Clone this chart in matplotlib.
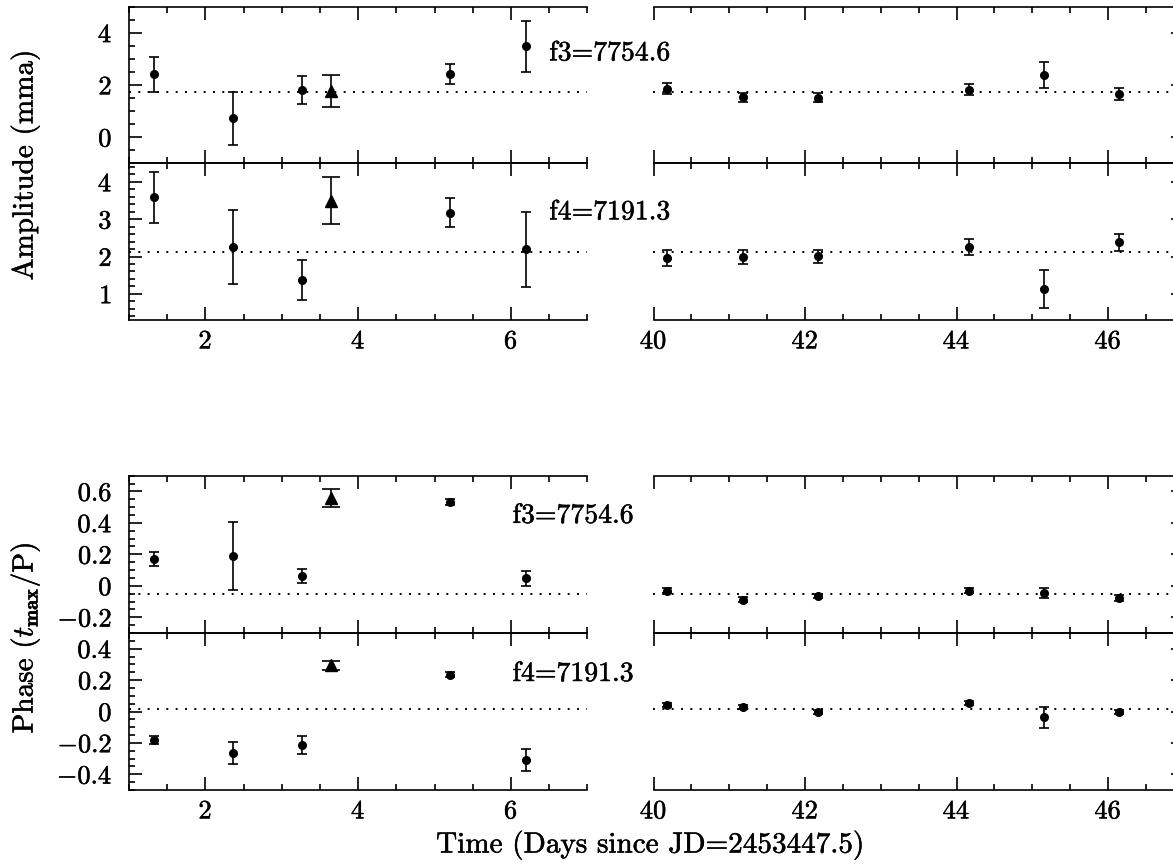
import matplotlib
matplotlib.use("Agg")
import matplotlib.pyplot as plt
import matplotlib.patheffects as pe
from matplotlib.ticker import MultipleLocator, FuncFormatter

plt.rcParams['font.family'] = 'cmr10'
plt.rcParams['mathtext.fontset'] = 'cm'
plt.rcParams['axes.unicode_minus'] = False
plt.rcParams['axes.formatter.use_mathtext'] = True

# observation times (days since JD=2453447.5)
t_obs = [1.33, 2.36, 3.27, 5.20, 6.20, 40.18, 41.18, 42.17, 44.16, 45.16, 46.14]
t_tri = [3.65]

amp_f3 = [2.41, 0.72, 1.82, 2.41, 3.48, 1.86, 1.53, 1.52, 1.82, 2.38, 1.64]
amp_f3_err = [0.68, 1.00, 0.53, 0.39, 0.98, 0.22, 0.18, 0.18, 0.22, 0.50, 0.23]
amp_f3_tri = [1.76]
amp_f3_tri_err = [0.62]

amp_f4 = [3.59, 2.26, 1.38, 3.18, 2.19, 1.96, 1.99, 2.01, 2.26, 1.13, 2.38]
amp_f4_err = [0.68, 1.00, 0.54, 0.40, 1.00, 0.22, 0.18, 0.17, 0.22, 0.50, 0.22]
amp_f4_tri = [3.50]
amp_f4_tri_err = [0.63]

phase_f3 = [0.17, 0.19, 0.063, 0.532, 0.048, -0.032, -0.088, -0.064, -0.032, -0.045, -0.077]
phase_f3_err = [0.045, 0.215, 0.045, 0.02, 0.048, 0.015, 0.015, 0.015, 0.015, 0.03, 0.02]
phase_f3_tri = [0.56]
phase_f3_tri_err = [0.056]

phase_f4 = [-0.182, -0.262, -0.213, 0.234, -0.31, 0.042, 0.031, -0.005, 0.056, -0.038, -0.005]
phase_f4_err = [0.026, 0.07, 0.06, 0.015, 0.072, 0.015, 0.012, 0.012, 0.012, 0.068, 0.012]
phase_f4_tri = [0.293]
phase_f4_tri_err = [0.026]

mean_vals = [1.74, 2.11, -0.05, 0.016]
freq_labels = ['f3=7754.6', 'f4=7191.3', 'f3=7754.6', 'f4=7191.3']

W, H = 1173, 865
fig = plt.figure(figsize=(W / 100, H / 100), dpi=100)
bold = [pe.withStroke(linewidth=0.35, foreground='black')]

def px_axes(x0, x1, y0, y1):
    return fig.add_axes([x0 / W, 1 - y1 / H, (x1 - x0) / W, (y1 - y0) / H])

rows = [(6.7, 163.3), (163.3, 320), (475.7, 633), (633, 790)]
ylims = [(-1, 5), (0.3, 4.5), (-0.3, 0.7), (-0.5, 0.5)]
ymajor = [2, 1, 0.2, 0.2]
yminor = [0.5, 0.2, 0.05, 0.05]
series = [
    (amp_f3, amp_f3_err, amp_f3_tri, amp_f3_tri_err),
    (amp_f4, amp_f4_err, amp_f4_tri, amp_f4_tri_err),
    (phase_f3, phase_f3_err, phase_f3_tri, phase_f3_tri_err),
    (phase_f4, phase_f4_err, phase_f4_tri, phase_f4_tri_err),
]
label_pos = [(6.50, 3.22), (6.50, 3.19), (6.02, 0.446), (6.02, 0.24)]

def tfmt(v, pos):
    s = '0' if abs(v) < 1e-9 else f'{v:g}'
    return f'${s}$'

lw = 1.2
for i, (y0, y1) in enumerate(rows):
    vals, errs, tv, te = series[i]
    axl = px_axes(129, 587.4, y0, y1)
    axr = px_axes(653.5, 653.5 + 7 * 75.75, y0, y1)
    for ax in (axl, axr):
        ax.patch.set_visible(False)
        ax.axhline(mean_vals[i], color='black', lw=1.4, ls=(0, (1, 3.8)),
                   zorder=1)
        ax.errorbar(t_obs, vals, yerr=errs, fmt='o', color='black', ms=5.5,
                    capsize=3.3, elinewidth=lw, capthick=lw, zorder=3)
        ax.errorbar(t_tri, tv, yerr=te, fmt='^', color='black', ms=8,
                    capsize=6.6, elinewidth=lw, capthick=lw, zorder=3)
        ax.set_ylim(*ylims[i])
        ax.yaxis.set_major_locator(MultipleLocator(ymajor[i]))
        ax.yaxis.set_minor_locator(MultipleLocator(yminor[i]))
        ax.yaxis.set_major_formatter(FuncFormatter(tfmt))
        ax.xaxis.set_major_locator(MultipleLocator(2))
        ax.xaxis.set_minor_locator(MultipleLocator(0.5))
        ax.xaxis.set_major_formatter(FuncFormatter(tfmt))
        for sp in ax.spines.values():
            sp.set_linewidth(lw)
        bottom_row = i in (1, 3)
        ax.tick_params(which='both', direction='in', top=True, bottom=True,
                       labelbottom=bottom_row, width=lw, labelsize=19)
        ax.tick_params(which='major', length=9.4)
        ax.tick_params(which='minor', length=4.5)
        ax.tick_params(axis='x', pad=7)
        ax.tick_params(axis='y', pad=12)
        for lab in ax.get_xticklabels() + ax.get_yticklabels():
            lab.set_path_effects(bold)
    axl.set_xlim(1, 7)
    axl.spines['right'].set_visible(False)
    axl.tick_params(which='both', axis='y', left=True, right=False)
    axr.set_xlim(40, 47)
    axr.spines['left'].set_visible(False)
    axr.tick_params(which='both', axis='y', left=False, right=True,
                    labelleft=False)
    tx, ty = label_pos[i]
    axl.text(tx, ty, freq_labels[i], fontsize=20, va='center', ha='left',
             clip_on=False, zorder=10, path_effects=bold)

fig.text(25 / W, 1 - 165 / H, 'Amplitude (mma)', rotation=90, fontsize=21,
         ha='center', va='center', path_effects=bold)
fig.text(25 / W, 1 - 638 / H, r'Phase ($t_{\mathbf{max}}$/P)', rotation=90,
         fontsize=21, ha='center', va='center', path_effects=bold)
fig.text(650 / W, 1 - 845 / H, 'Time (Days since JD=2453447.5)', fontsize=21,
         ha='center', va='center', path_effects=bold)

fig.savefig('out.png', dpi=100)
